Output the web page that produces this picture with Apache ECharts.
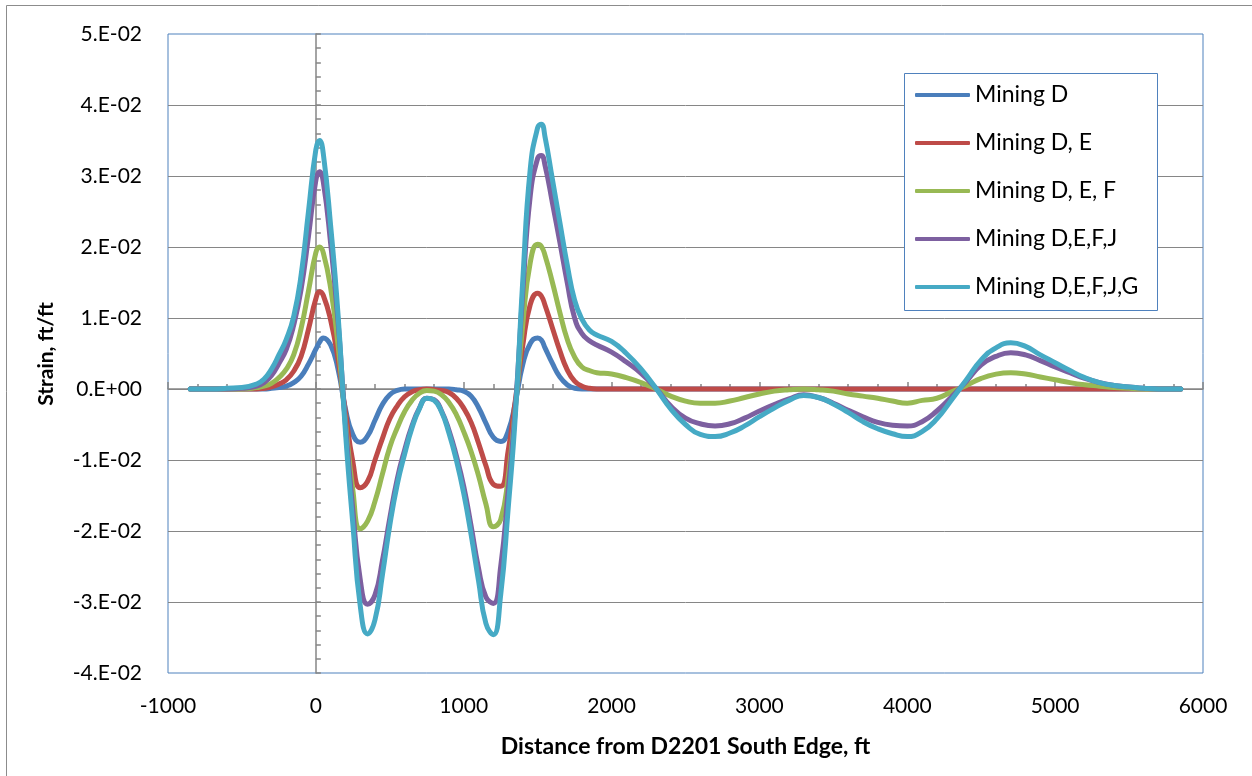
<!DOCTYPE html>
<html>
<head>
<meta charset="utf-8">
<script src="https://cdn.jsdelivr.net/npm/echarts@6/dist/echarts.min.js"></script>
<style>
  html, body { margin: 0; padding: 0; background: #ffffff; }
  #chart { width: 1252px; height: 776px; }
</style>
</head>
<body>
<div id="chart"></div>
<script>
// Distance along the profile, ft
const X_FT = [
  -850, -700, -600, -500, -400, -350, -300, -250, -200, -150, -100, -50,
  0, 25, 50,
  100, 150, 200, 250, 300, 350, 400, 450, 500, 550, 600, 650, 700, 750, 800,
  850, 900, 950, 1000, 1050, 1100, 1150, 1200, 1250, 1300, 1350, 1400, 1450, 1500,
  1525,
  1550, 1600, 1650, 1700, 1750, 1800, 1850, 1900,
  2000, 2100, 2200, 2300, 2400, 2500, 2600, 2700, 2800, 2900, 3000, 3100, 3200,
  3300, 3400, 3500, 3600, 3700, 3800, 3900, 4000, 4100, 4200, 4300, 4400, 4500,
  4600, 4700, 4800, 4900, 5000, 5100, 5200, 5300, 5400, 5500, 5600, 5700,
  5850
];

// Strain, ft/ft, one value per distance above
const MINING_D = [
  0, 0, 0, 0, 0, 0, 0.0001, 0.0002, 0.0004, 0.0009, 0.0018, 0.0035,
  0.0056, 0.0066, 0.0072,
  0.0062, 0.0028, -0.0028, -0.0064, -0.0075, -0.0066, -0.0044, -0.0022, -0.0008, -0.0002,
  0, 0, 0, 0, 0, 0, 0, -0.0001, -0.0003, -0.0010, -0.0026, -0.0048, -0.0068, -0.0074,
  -0.0060, -0.0018, 0.0035, 0.0064, 0.0072,
  0.0069,
  0.0058, 0.0036, 0.0017, 0.0006, 0.0001, 0, 0, 0,
  0, 0, 0, 0, 0, 0, 0, 0, 0, 0, 0, 0, 0, 0, 0, 0, 0, 0, 0,
  0, 0, 0, 0, 0, 0, 0, 0, 0, 0, 0, 0, 0, 0, 0, 0, 0, 0, 0,
  0
];

const MINING_DE = [
  0, 0, 0, 0, 0, 0.0001, 0.0003, 0.0007, 0.0013, 0.0025, 0.0046, 0.0084,
  0.0127, 0.0137, 0.0132,
  0.0097, 0.0042, -0.0032, -0.0102, -0.0139, -0.0130, -0.0100, -0.0070, -0.0042, -0.0024,
  -0.0011, -0.0004, -0.0001, 0, -0.0001, -0.0002, -0.0005, -0.0013, -0.0027, -0.0047,
  -0.0076, -0.0108, -0.0134, -0.0137, -0.0088, -0.0015, 0.0062, 0.0119, 0.0135,
  0.0131,
  0.0118, 0.0086, 0.0054, 0.0027, 0.0011, 0.0004, 0.0001, 0,
  0, 0, 0, 0, 0, 0, 0, 0, 0, 0, 0, 0, 0, 0, 0, 0, 0, 0, 0,
  0, 0, 0, 0, 0, 0, 0, 0, 0, 0, 0, 0, 0, 0, 0, 0, 0, 0, 0,
  0
];

const MINING_DEF = [
  0, 0, 0, 0, 0.0002, 0.0004, 0.0008, 0.0016, 0.0028, 0.0048, 0.0085, 0.0138,
  0.0192, 0.0200, 0.0192,
  0.0142, 0.0062, -0.0045, -0.0142, -0.0197, -0.0186, -0.0158, -0.0120, -0.0082, -0.0055,
  -0.0032, -0.0016, -0.0006, -0.0002, -0.0003, -0.0008, -0.0019, -0.0036, -0.0060, -0.0088,
  -0.0122, -0.0162, -0.0194, -0.0184, -0.0125, -0.0025, 0.0092, 0.0178, 0.0204,
  0.0201,
  0.0188, 0.0150, 0.0108, 0.0070, 0.0045, 0.0031, 0.0026, 0.0023,
  0.0021, 0.0016, 0.0009, 0.0000, -0.0010, -0.0017, -0.0020, -0.0020, -0.0017, -0.0012,
  -0.0007, -0.0003, -0.0001, 0.0000, -0.0001, -0.0003, -0.0007, -0.0010, -0.0013, -0.0017,
  -0.0020, -0.0016, -0.0013, -0.0004, 0.0005, 0.0015, 0.0021, 0.0023, 0.0021, 0.0017,
  0.0013, 0.0009, 0.0006, 0.0004, 0.0002, 0.0001, 0, 0,
  0
];

const MINING_DEFJ = [
  0, 0, 0, 0.0001, 0.0004, 0.0009, 0.0019, 0.0036, 0.0056, 0.0090, 0.0140, 0.0215,
  0.0294, 0.0306, 0.0292,
  0.0205, 0.0095, -0.0050, -0.0170, -0.0268, -0.0303, -0.0290, -0.0242, -0.0182, -0.0127,
  -0.0086, -0.0052, -0.0027, -0.0013, -0.0015, -0.0031, -0.0058, -0.0094, -0.0137, -0.0193,
  -0.0252, -0.0293, -0.0302, -0.0250, -0.0145, -0.0025, 0.0138, 0.0272, 0.0325,
  0.0329,
  0.0315, 0.0262, 0.0207, 0.0150, 0.0100, 0.0078, 0.0068, 0.0062,
  0.0052, 0.0038, 0.0022, 0.0001, -0.0024, -0.0041, -0.0049, -0.0052, -0.0049, -0.0041,
  -0.0031, -0.0022, -0.0014, -0.0008, -0.0012, -0.0020, -0.0030, -0.0039, -0.0047, -0.0051,
  -0.0052, -0.0046, -0.0031, -0.0011, 0.0011, 0.0034, 0.0046, 0.0051, 0.0048, 0.0040,
  0.0031, 0.0023, 0.0015, 0.0009, 0.0005, 0.0003, 0.0001, 0,
  0
];

const MINING_DEFJG = [
  0, 0, 0.0001, 0.0002, 0.0007, 0.0014, 0.0028, 0.0048, 0.0070, 0.0102, 0.0160, 0.0250,
  0.0337, 0.0350, 0.0332,
  0.0230, 0.0105, -0.0060, -0.0190, -0.0305, -0.0345, -0.0325, -0.0262, -0.0192, -0.0135,
  -0.0092, -0.0055, -0.0028, -0.0013, -0.0016, -0.0032, -0.0062, -0.0100, -0.0147, -0.0205,
  -0.0270, -0.0330, -0.0346, -0.0290, -0.0170, -0.0035, 0.0155, 0.0310, 0.0368,
  0.0373,
  0.0355, 0.0295, 0.0235, 0.0175, 0.0125, 0.0098, 0.0083, 0.0076,
  0.0067, 0.0050, 0.0028, 0.0001, -0.0028, -0.0050, -0.0064, -0.0067, -0.0062, -0.0052,
  -0.0039, -0.0027, -0.0016, -0.0009, -0.0012, -0.0021, -0.0033, -0.0046, -0.0056, -0.0063,
  -0.0067, -0.0060, -0.0042, -0.0015, 0.0013, 0.0041, 0.0058, 0.0065, 0.0060, 0.0048,
  0.0037, 0.0026, 0.0016, 0.0009, 0.0005, 0.0003, 0.0001, 0,
  0
];

const SERIES_NAMES = ['Mining D', 'Mining D, E', 'Mining D, E, F', 'Mining D,E,F,J', 'Mining D,E,F,J,G'];
const SERIES_VALUES = [MINING_D, MINING_DE, MINING_DEF, MINING_DEFJ, MINING_DEFJG];
const SERIES_COLORS = ['#4A7EBB', '#BE4B48', '#98B954', '#7D60A0', '#46AAC5'];

// Tick labels, in axis order
const X_TICK_LABELS = ['-1000', '0', '1000', '2000', '3000', '4000', '5000', '6000'];
const Y_TICK_LABELS = ['-4.E-02', '-3.E-02', '-2.E-02', '-1.E-02', '0.E+00',
                       '1.E-02', '2.E-02', '3.E-02', '4.E-02', '5.E-02'];
const Y_MIN = -0.04, Y_MAX = 0.05, Y_STEP = 0.01;
const X_MIN = -1000, X_MAX = 6000, X_STEP = 1000;

const FONT = 'Lato, "Open Sans", sans-serif';
const AXIS_GRAY = '#868686';
const PLOT_BLUE = '#4F81BD';

const chart = echarts.init(document.getElementById('chart'), null, { renderer: 'canvas' });

const xBase = { type: 'value', min: X_MIN, max: X_MAX, interval: X_STEP };
const yBase = { type: 'value', min: Y_MIN, max: Y_MAX, interval: Y_STEP };
const axisLineStyle = { color: AXIS_GRAY, width: 1.5 };

const option = {
  animation: false,
  backgroundColor: '#ffffff',
  grid: {
    left: 168, right: 49, top: 34, bottom: 103,
    show: true, borderColor: PLOT_BLUE, borderWidth: 1, backgroundColor: 'transparent'
  },
  xAxis: [
    Object.assign({}, xBase, {
      position: 'bottom',
      axisLine: { show: false, onZero: false },
      axisTick: { show: false },
      splitLine: { show: false },
      axisLabel: {
        color: '#000', fontSize: 21, fontFamily: FONT, margin: 23,
        formatter: function (v) {
          const i = Math.round((v - X_MIN) / X_STEP);
          return X_TICK_LABELS[i] || '';
        }
      }
    }),
    // line through y = 0 with upward ticks
    Object.assign({}, xBase, {
      position: 'top',
      axisLine: { show: true, onZero: true, lineStyle: axisLineStyle },
      axisTick: { show: true, length: 7, lineStyle: axisLineStyle },
      minorTick: { show: true, splitNumber: 5, length: 5, lineStyle: axisLineStyle },
      axisLabel: { show: false },
      splitLine: { show: false }
    }),
    // lower half of the major ticks on y = 0
    Object.assign({}, xBase, {
      position: 'bottom',
      axisLine: { show: false, onZero: true },
      axisTick: { show: true, inside: true, length: 7, lineStyle: axisLineStyle },
      axisLabel: { show: false },
      splitLine: { show: false }
    })
  ],
  yAxis: [
    Object.assign({}, yBase, {
      position: 'left',
      axisLine: { show: false, onZero: false },
      axisTick: { show: false },
      splitLine: { show: true, showMinLine: false, showMaxLine: false,
                   lineStyle: { color: AXIS_GRAY, width: 1 } },
      axisLabel: {
        color: '#000', fontSize: 21, fontFamily: FONT, margin: 26,
        formatter: function (v) {
          const i = Math.round((v - Y_MIN) / Y_STEP);
          return Y_TICK_LABELS[i] || '';
        }
      }
    }),
    // line through x = 0 with ticks toward the right
    Object.assign({}, yBase, {
      position: 'right',
      axisLine: { show: true, onZero: true, lineStyle: axisLineStyle },
      axisTick: { show: true, length: 5, lineStyle: axisLineStyle },
      minorTick: { show: true, splitNumber: 5, length: 5, lineStyle: axisLineStyle },
      axisLabel: { show: false },
      splitLine: { show: false }
    })
  ],
  legend: {
    orient: 'vertical',
    left: 915, top: 83,
    padding: 0,
    icon: 'roundRect',
    itemWidth: 55, itemHeight: 4,
    itemGap: 24,
    data: SERIES_NAMES,
    textStyle: { color: '#000', fontSize: 23, lineHeight: 24, fontFamily: FONT },
    z: 10
  },
  graphic: {
    elements: [
      { type: 'rect', z: 0, silent: true,
        shape: { x: 6.5, y: 5.5, width: 1300, height: 800 },
        style: { fill: 'none', stroke: '#8C8C8C', lineWidth: 1 } },
      { type: 'rect', z: 9, silent: true,
        shape: { x: 904.5, y: 73.5, width: 253, height: 237 },
        style: { fill: '#ffffff', stroke: PLOT_BLUE, lineWidth: 1 } },
      { type: 'text', z: 5, silent: true, x: 46, y: 354, rotation: Math.PI / 2,
        style: { text: 'Strain, ft/ft', fill: '#000', fontSize: 21, fontWeight: 'bold',
                 fontFamily: FONT, align: 'center', verticalAlign: 'middle' } },
      { type: 'text', z: 5, silent: true, x: 685.5, y: 747,
        style: { text: 'Distance from D2201 South Edge, ft', fill: '#000', fontSize: 23,
                 fontWeight: 'bold', fontFamily: FONT, align: 'center', verticalAlign: 'middle' } }
    ]
  },
  series: SERIES_NAMES.map(function (name, k) {
    return {
      type: 'line',
      name: name,
      xAxisIndex: 0,
      yAxisIndex: 0,
      data: X_FT.map(function (x, i) { return [x, SERIES_VALUES[k][i]]; }),
      smooth: true,
      symbol: 'none',
      showSymbol: false,
      silent: true,
      z: 2,
      lineStyle: { color: SERIES_COLORS[k], width: 5, cap: 'round', join: 'round' },
      itemStyle: { color: SERIES_COLORS[k] }
    };
  })
};

chart.setOption(option);
</script>
</body>
</html>
